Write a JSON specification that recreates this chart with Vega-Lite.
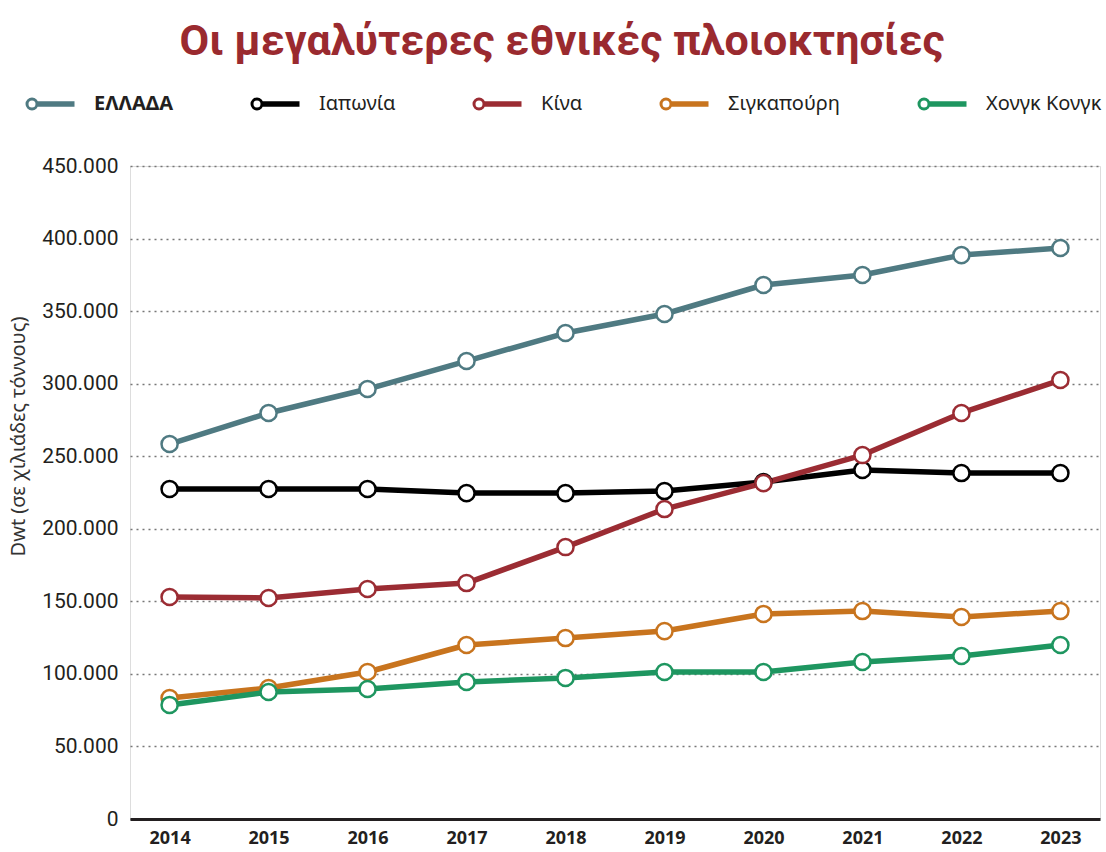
{
  "$schema": "https://vega.github.io/schema/vega-lite/v6.json",
  "width": 970,
  "height": 653,
  "autosize": {"type": "none"},
  "padding": {"left": 130, "top": 166, "right": 6, "bottom": 33},
  "background": "white",
  "title": {
    "text": "Οι μεγαλύτερες εθνικές πλοιοκτησίες",
    "font": "Roboto",
    "fontSize": 43,
    "fontWeight": "bold",
    "color": "#9a2a2f",
    "anchor": "middle",
    "frame": "group",
    "dx": -53,
    "offset": 30
  },
  "data": {
    "values": [
      {"year": "2014", "country": "ΕΛΛΑΔΑ", "value": 258400},
      {"year": "2015", "country": "ΕΛΛΑΔΑ", "value": 279800},
      {"year": "2016", "country": "ΕΛΛΑΔΑ", "value": 296300},
      {"year": "2017", "country": "ΕΛΛΑΔΑ", "value": 315600},
      {"year": "2018", "country": "ΕΛΛΑΔΑ", "value": 334900},
      {"year": "2019", "country": "ΕΛΛΑΔΑ", "value": 348000},
      {"year": "2020", "country": "ΕΛΛΑΔΑ", "value": 368000},
      {"year": "2021", "country": "ΕΛΛΑΔΑ", "value": 374900},
      {"year": "2022", "country": "ΕΛΛΑΔΑ", "value": 388600},
      {"year": "2023", "country": "ΕΛΛΑΔΑ", "value": 393500},
      {"year": "2014", "country": "Ιαπωνία", "value": 227400},
      {"year": "2015", "country": "Ιαπωνία", "value": 227400},
      {"year": "2016", "country": "Ιαπωνία", "value": 227400},
      {"year": "2017", "country": "Ιαπωνία", "value": 224600},
      {"year": "2018", "country": "Ιαπωνία", "value": 224600},
      {"year": "2019", "country": "Ιαπωνία", "value": 226000},
      {"year": "2020", "country": "Ιαπωνία", "value": 232200},
      {"year": "2021", "country": "Ιαπωνία", "value": 240500},
      {"year": "2022", "country": "Ιαπωνία", "value": 238400},
      {"year": "2023", "country": "Ιαπωνία", "value": 238400},
      {"year": "2014", "country": "Κίνα", "value": 153000},
      {"year": "2015", "country": "Κίνα", "value": 152300},
      {"year": "2016", "country": "Κίνα", "value": 158500},
      {"year": "2017", "country": "Κίνα", "value": 162600},
      {"year": "2018", "country": "Κίνα", "value": 187400},
      {"year": "2019", "country": "Κίνα", "value": 213600},
      {"year": "2020", "country": "Κίνα", "value": 231500},
      {"year": "2021", "country": "Κίνα", "value": 250800},
      {"year": "2022", "country": "Κίνα", "value": 279800},
      {"year": "2023", "country": "Κίνα", "value": 302500},
      {"year": "2014", "country": "Σιγκαπούρη", "value": 83400},
      {"year": "2015", "country": "Σιγκαπούρη", "value": 90300},
      {"year": "2016", "country": "Σιγκαπούρη", "value": 101300},
      {"year": "2017", "country": "Σιγκαπούρη", "value": 119900},
      {"year": "2018", "country": "Σιγκαπούρη", "value": 124700},
      {"year": "2019", "country": "Σιγκαπούρη", "value": 129500},
      {"year": "2020", "country": "Σιγκαπούρη", "value": 141300},
      {"year": "2021", "country": "Σιγκαπούρη", "value": 143300},
      {"year": "2022", "country": "Σιγκαπούρη", "value": 139200},
      {"year": "2023", "country": "Σιγκαπούρη", "value": 143300},
      {"year": "2014", "country": "Χονγκ Κονγκ", "value": 78600},
      {"year": "2015", "country": "Χονγκ Κονγκ", "value": 87500},
      {"year": "2016", "country": "Χονγκ Κονγκ", "value": 89600},
      {"year": "2017", "country": "Χονγκ Κονγκ", "value": 94400},
      {"year": "2018", "country": "Χονγκ Κονγκ", "value": 97200},
      {"year": "2019", "country": "Χονγκ Κονγκ", "value": 101300},
      {"year": "2020", "country": "Χονγκ Κονγκ", "value": 101300},
      {"year": "2021", "country": "Χονγκ Κονγκ", "value": 108200},
      {"year": "2022", "country": "Χονγκ Κονγκ", "value": 112300},
      {"year": "2023", "country": "Χονγκ Κονγκ", "value": 119900}
    ]
  },
  "encoding": {
    "x": {
      "field": "year",
      "type": "ordinal",
      "scale": {"type": "point", "padding": 0.4},
      "axis": {
        "title": null,
        "labelAngle": 0,
        "labelFont": "Noto Sans",
        "labelFontSize": 18,
        "labelFontWeight": "bold",
        "labelColor": "#231f20",
        "labelPadding": 10,
        "ticks": false,
        "domainColor": "#231f20",
        "domainWidth": 3,
        "grid": false
      }
    },
    "y": {
      "field": "value",
      "type": "quantitative",
      "scale": {"domain": [0, 450000], "nice": false},
      "axis": {
        "title": "Dwt (σε χιλιάδες τόννους)",
        "titleFont": "Noto Sans",
        "titleFontSize": 20,
        "titleFontWeight": "normal",
        "titleColor": "#333333",
        "titleX": -112,
        "titleY": 270,
        "titleBaseline": "middle",
        "titleAlign": "center",
        "values": [0, 50000, 100000, 150000, 200000, 250000, 300000, 350000, 400000, 450000],
        "labelExpr": "replace(format(datum.value, ','), ',', '.')",
        "labelFont": "Roboto",
        "labelFontSize": 21,
        "labelColor": "#231f20",
        "labelPadding": 12,
        "ticks": false,
        "domain": false,
        "grid": true,
        "gridColor": "#777777",
        "gridDash": [2, 4],
        "gridWidth": 1.3
      }
    },
    "stroke": {
      "field": "country",
      "type": "nominal",
      "sort": ["ΕΛΛΑΔΑ", "Ιαπωνία", "Κίνα", "Σιγκαπούρη", "Χονγκ Κονγκ"],
      "scale": {
        "domain": ["ΕΛΛΑΔΑ", "Ιαπωνία", "Κίνα", "Σιγκαπούρη", "Χονγκ Κονγκ"],
        "range": ["#4f7a82", "#000000", "#9b2c33", "#c8741e", "#1e9660"]
      },
      "legend": {
        "title": null,
        "orient": "none",
        "legendX": -108,
        "legendY": -72,
        "direction": "horizontal",
        "columns": 5,
        "padding": 0,
        "columnPadding": 72,
        "symbolType": "M -1 0 A 1 1 0 1 1 1 0 A 1 1 0 1 1 -1 0 Z M 1 -0.25 L 8.2 -0.25 L 8.2 0.25 L 1 0.25 Z",
        "symbolSize": 100,
        "symbolStrokeWidth": 3,
        "symbolFillColor": "white",
        "labelOffset": 52,
        "labelFont": "Noto Sans",
        "labelFontSize": 20,
        "labelColor": "#231f20",
        "labelFontWeight": {"expr": "datum.label == 'ΕΛΛΑΔΑ' ? 'bold' : 'normal'"},
        "labelLimit": 300
      }
    }
  },
  "layer": [
    {
      "mark": {"type": "line", "strokeWidth": 5.5, "strokeJoin": "round"},
      "encoding": {"detail": {"field": "country"}}
    },
    {
      "mark": {"type": "point", "shape": "circle", "filled": true, "fill": "white", "size": 260, "strokeWidth": 2.5, "opacity": 1}
    }
  ]
}
